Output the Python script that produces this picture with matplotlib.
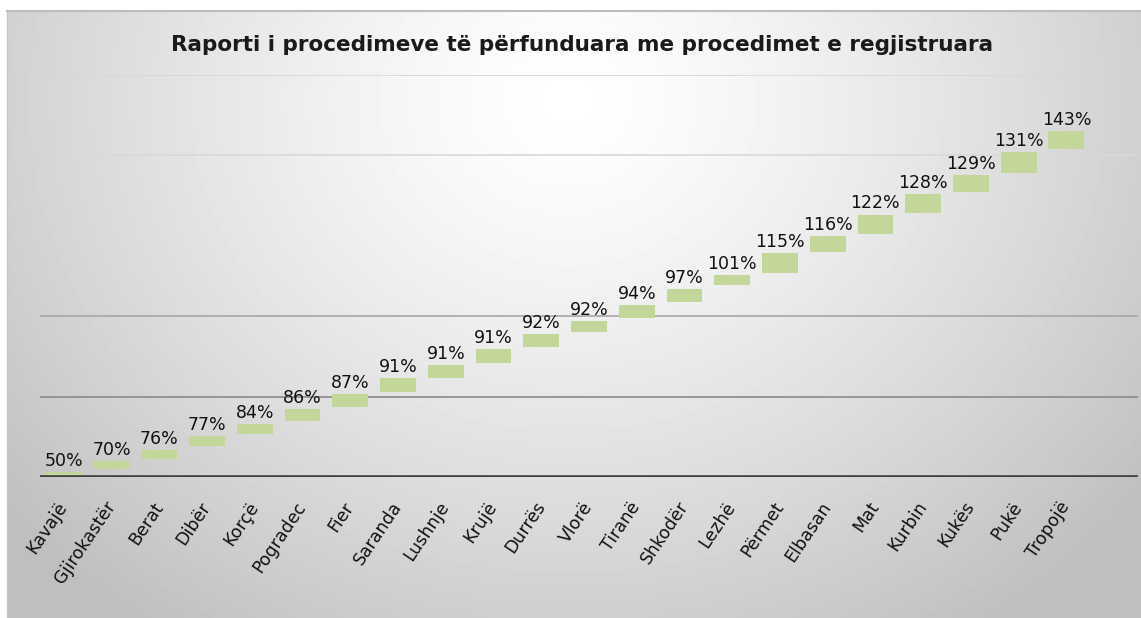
import numpy as np
import matplotlib.pyplot as plt

cities = ['Kavajë', 'Gjirokastër', 'Berat', 'Dibër', 'Korçë', 'Pogradec', 'Fier',
          'Saranda', 'Lushnje', 'Krujë', 'Durrës', 'Vlorë', 'Tiranë', 'Shkodër',
          'Lezhë', 'Përmet', 'Elbasan', 'Mat', 'Kurbin', 'Kukës', 'Pukë', 'Tropojë']
pct = [50, 70, 76, 77, 84, 86, 87, 91, 91, 91, 92, 92, 94, 97, 101, 115, 116,
       122, 128, 129, 131, 143]
# floating bars: invisible base and visible top (axis units)
bar_base = [0.00, 0.10, 0.22, 0.38, 0.54, 0.69, 0.87, 1.06, 1.23, 1.42, 1.61,
            1.80, 1.97, 2.17, 2.38, 2.54, 2.80, 3.02, 3.28, 3.54, 3.78, 4.07]
bar_top = [0.06, 0.20, 0.34, 0.51, 0.66, 0.84, 1.03, 1.23, 1.39, 1.59, 1.78,
           1.94, 2.14, 2.34, 2.51, 2.78, 2.99, 3.26, 3.52, 3.75, 4.04, 4.30]

W, H = 1141, 618
fig = plt.figure(figsize=(W / 100, H / 100), dpi=100)
fig.patch.set_facecolor('white')

# gradient background panel
bg = fig.add_axes([7 / W, 0, 1 - 7 / W, 1 - 11 / H])
yy, xx = np.mgrid[0:H - 11, 0:W - 7]
r = np.sqrt(((xx - 560) / 640.0) ** 2 + ((yy - 90) / 560.0) ** 2)
r = np.clip(r, 0, 1.15)
val = 1 - 0.21 * r ** 1.3
bg.imshow(val, cmap='gray', vmin=0, vmax=1, aspect='auto', interpolation='bilinear')
bg.set_axis_off()
fig.add_artist(plt.Line2D([7 / W, 1], [1 - 11 / H, 1 - 11 / H], color='#bdbdbd', lw=1.5))
fig.add_artist(plt.Line2D([7 / W, 7 / W], [0, 1 - 11 / H], color='#c8c8c8', lw=1))

ax = fig.add_axes([40 / W, 1 - 477 / H, (1138 - 40) / W, (477 - 74.5) / H])
ax.patch.set_alpha(0)
x = np.arange(len(cities))
heights = np.array(bar_top) - np.array(bar_base)
ax.bar(x, heights, bottom=bar_base, width=0.75, color='#c4d79b', zorder=3)

grid_cols = {1: '#8a8a8a', 2: '#a6a6a6', 4: '#d9d9d9', 5: '#d6d6d6'}
for g, c in grid_cols.items():
    ax.axhline(g, color=c, lw=1.2, zorder=1)
ax.axhline(0, color='#404040', lw=2.6, zorder=4)

for xi, t, p in zip(x, bar_top, pct):
    ax.annotate(f'{p}%', (xi, t), xytext=(0, 1.5), textcoords='offset points',
                ha='center', va='bottom', fontsize=12.5, color='#111111', zorder=5)

ax.set_xlim(-0.5, 22.5)
ax.set_ylim(0, 5)
ax.set_xticks(x)
ax.set_xticklabels(cities, rotation=56, ha='right', va='center',
                   rotation_mode='anchor', fontsize=12.5, color='#111111')
ax.tick_params(axis='x', length=0, pad=19)
ax.set_yticks([])
for s in ax.spines.values():
    s.set_visible(False)

fig.text(582 / W, 1 - 45 / H, 'Raporti i procedimeve të përfunduara me procedimet e regjistruara',
         ha='center', va='center', fontsize=15.5, fontweight='bold', color='#1a1a1a')

fig.savefig('out.png', dpi=100)
